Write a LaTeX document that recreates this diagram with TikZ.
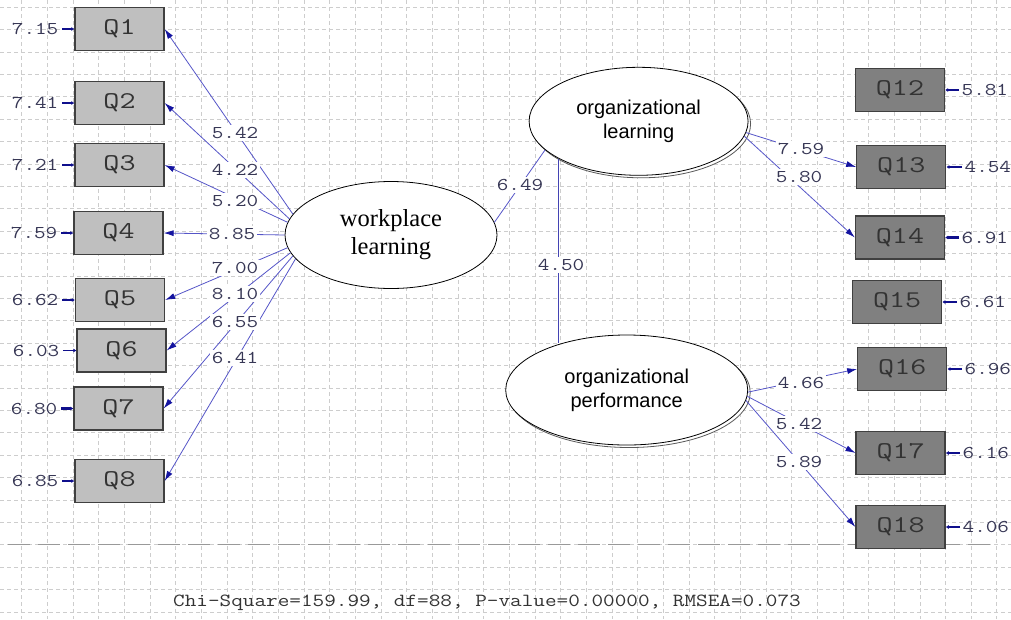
\documentclass[tikz,border=0pt]{standalone}
\usepackage{fontspec}
\usepackage{graphicx}
\setmainfont{Liberation Serif}
\newfontfamily\olfont{Liberation Sans}
\usetikzlibrary{shapes.geometric,arrows.meta,shadows}
\definecolor{pathblue}{RGB}{85,85,200}
\definecolor{tipblue}{RGB}{20,20,160}
\definecolor{stubblue}{RGB}{15,15,140}
\definecolor{numcol}{RGB}{55,55,85}
\definecolor{gridcol}{RGB}{205,205,205}
\newcommand\numtxt[1]{\scalebox{1.25}[1]{\ttfamily\fontsize{18}{18}\selectfont #1}}
\newcommand\qtxt[1]{\scalebox{1.3}[1]{\ttfamily\fontsize{24}{24}\selectfont #1}}
\newcommand\chitxt[1]{\scalebox{1.22}[1]{\ttfamily\fontsize{18.5}{18.5}\selectfont #1}}
\begin{document}
\begin{tikzpicture}[x=1pt,y=-1pt,
  gridline/.style={draw=gridcol, line width=0.6pt, dash pattern=on 4pt off 3pt},
  lbox/.style={draw=black!75, line width=1.3pt, fill=black!25, minimum width=89pt, minimum height=43pt, inner sep=0pt, text=black!80},
  rbox/.style={lbox, fill=black!50},
  latent/.style={ellipse, draw=black, line width=0.8pt, fill=white, inner sep=0pt, align=center},
  shadowed/.style={copy shadow={shadow xshift=2.5pt, shadow yshift=-2.5pt, draw=black!65, fill=white, line width=0.8pt}},
  pathline/.style={draw=pathblue, line width=0.8pt, -{Latex[length=10pt,width=6pt,color=tipblue]}},
  plainline/.style={draw=pathblue, line width=0.8pt},
  plabel/.style={text=numcol, fill=white, inner sep=2pt},
  elabel/.style={text=numcol, inner sep=0.5pt},
  estub/.style={draw=stubblue, line width=2.6pt, -{Latex[length=3pt,width=4pt]}}
]
\useasboundingbox (0,0) rectangle (1011,619);
\clip (0,0) rectangle (1011,619);
\fill[white] (0,0) rectangle (1011,619);
% grid
\foreach \i in {0,...,38} \draw[gridline] ({21.7+25.66*\i},0) -- ({21.7+25.66*\i},619);
\foreach \j in {0,...,27} \draw[gridline] (0,{7+22.4*\j}) -- (1011,{7+22.4*\j});
\draw[draw=black!40, line width=0.8pt, dash pattern=on 22pt off 8pt] (8,544) -- (990,544);

% left indicator boxes
\node[lbox] (q1) at (119.5,29) {\qtxt{Q1}};
\node[lbox] (q2) at (119.5,103) {\qtxt{Q2}};
\node[lbox] (q3) at (119.5,165) {\qtxt{Q3}};
\node[lbox] (q4) at (118.5,233) {\qtxt{Q4}};
\node[lbox] (q5) at (120,300) {\qtxt{Q5}};
\node[lbox] (q6) at (121.5,350.5) {\qtxt{Q6}};
\node[lbox] (q7) at (118.5,408.5) {\qtxt{Q7}};
\node[lbox] (q8) at (119.5,481) {\qtxt{Q8}};

% right indicator boxes
\node[rbox] (q12) at (900,90) {\qtxt{Q12}};
\node[rbox] (q13) at (901.3,167) {\qtxt{Q13}};
\node[rbox] (q14) at (900,237.5) {\qtxt{Q14}};
\node[rbox] (q15) at (897.2,302) {\qtxt{Q15}};
\node[rbox] (q16) at (902.3,369) {\qtxt{Q16}};
\node[rbox] (q17) at (900.6,453) {\qtxt{Q17}};
\node[rbox] (q18) at (900.6,527) {\qtxt{Q18}};

% latent variables
\node[latent, minimum width=212pt, minimum height=107pt, font=\fontsize{24.5}{28}\selectfont] (wl) at (391,235) {workplace\\learning};
\node[latent, shadowed, minimum width=219pt, minimum height=108pt, font=\olfont\fontsize{20}{24}\selectfont] (ol) at (638.6,121.3) {organizational\\learning};
\node[latent, shadowed, minimum width=242pt, minimum height=110pt, font=\olfont\fontsize{20}{24}\selectfont] (op) at (626.7,390) {organizational\\performance};

% loadings of workplace learning
\draw[pathline] (wl.168) -- (q1.east);
\draw[pathline] (wl.171) -- (q2.east);
\draw[pathline] (wl.173) -- (q3.east);
\draw[pathline] (wl.180) -- (q4.east);
\draw[pathline] (wl.187) -- (q5.east);
\draw[pathline] (wl.190) -- (q6.east);
\draw[pathline] (wl.192) -- (q7.east);
\draw[pathline] (wl.194) -- (q8.east);
\node[plabel] (l1) at (235,133) {\numtxt{5.42}};
\node[plabel] (l2) at (235,170) {\numtxt{4.22}};
\node[plabel] (l3) at (235,201) {\numtxt{5.20}};
\node[plabel] (l4) at (232,234) {\numtxt{8.85}};
\node[plabel] (l5) at (235,268) {\numtxt{7.00}};
\node[plabel] (l6) at (235,294) {\numtxt{8.10}};
\node[plabel] (l7) at (235,322) {\numtxt{6.55}};
\node[plabel] (l8) at (235,358) {\numtxt{6.41}};

% structural paths
\draw[plainline] (wl.7) -- (ol.197);
\node[plabel] (l9) at (520,185) {\numtxt{6.49}};
\draw[plainline, draw=tipblue!80] (ol.205) -- (ol.205 |- op.144);
\node[plabel] (l10) at (561,265) {\numtxt{4.50}};

% loadings of organizational learning
\draw[pathline] (ol.354) -- (q13.west);
\draw[pathline] (ol.352) -- (q14.west);
\node[plabel] (l11) at (801,149) {\numtxt{7.59}};
\node[plabel] (l12) at (799,177) {\numtxt{5.80}};

% loadings of organizational performance
\draw[pathline] (op.359) -- (q16.west);
\draw[pathline] (op.357) -- (q17.west);
\draw[pathline] (op.355) -- (q18.west);
\node[plabel] (l13) at (801,383) {\numtxt{4.66}};
\node[plabel] (l14) at (799,424) {\numtxt{5.42}};
\node[plabel] (l15) at (799,462) {\numtxt{5.89}};

% error variances, left
\node[elabel, anchor=east] (e1) at (59,29) {\numtxt{7.15}};
\node[elabel, anchor=east] (e2) at (59,103) {\numtxt{7.41}};
\node[elabel, anchor=east] (e3) at (59,165) {\numtxt{7.21}};
\node[elabel, anchor=east] (e4) at (58,233) {\numtxt{7.59}};
\node[elabel, anchor=east] (e5) at (59,300) {\numtxt{6.62}};
\node[elabel, anchor=east] (e6) at (60,350.5) {\numtxt{6.03}};
\node[elabel, anchor=east] (e7) at (58,408.5) {\numtxt{6.80}};
\node[elabel, anchor=east] (e8) at (59,481) {\numtxt{6.85}};
\foreach \k in {1,2,3,4,5,7,8} \draw[estub] ([xshift=3pt]e\k.east) -- (q\k.west);
\draw[estub, line width=1pt] ([xshift=3pt]e6.east) -- (q6.west);

% error variances, right
\node[elabel, anchor=west] (e12) at (961,90) {\numtxt{5.81}};
\node[elabel, anchor=west] (e13) at (964,167) {\numtxt{4.54}};
\node[elabel, anchor=west] (e14) at (961,237.5) {\numtxt{6.91}};
\node[elabel, anchor=west] (e15) at (959,302) {\numtxt{6.61}};
\node[elabel, anchor=west] (e16) at (964,369) {\numtxt{6.96}};
\node[elabel, anchor=west] (e17) at (962,453) {\numtxt{6.16}};
\node[elabel, anchor=west] (e18) at (962,527) {\numtxt{4.06}};
\foreach \k in {12,...,18} \draw[estub] ([xshift=-2pt]e\k.west) -- (q\k.east);

% fit statistics
\node[text=black!80, inner sep=0pt] (fit) at (487,603) {\chitxt{Chi-Square=159.99, df=88, P-value=0.00000, RMSEA=0.073}};
\end{tikzpicture}
\end{document}
